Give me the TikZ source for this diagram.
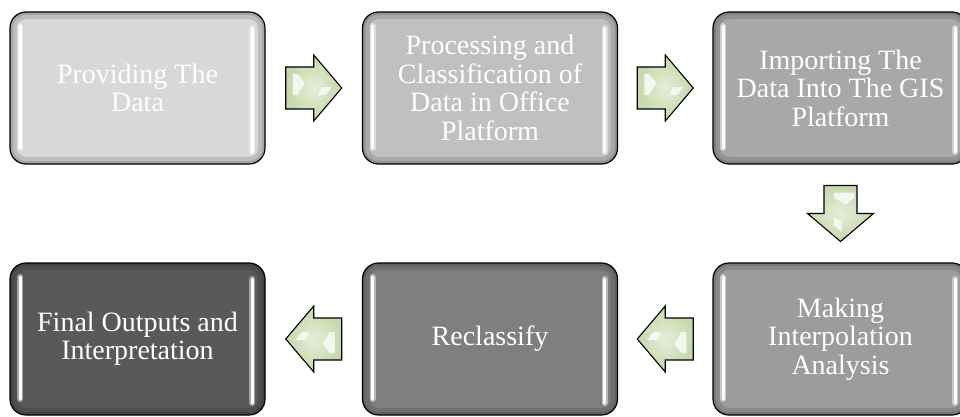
\documentclass[tikz,border=0pt]{standalone}
\usepackage{fontspec}
\setmainfont{Liberation Serif}
\usetikzlibrary{calc}

\definecolor{fillA}{HTML}{D8D8D8}
\definecolor{fillB}{HTML}{C0C0C0}
\definecolor{fillC}{HTML}{A8A8A8}
\definecolor{fillD}{HTML}{9C9C9C}
\definecolor{fillE}{HTML}{7F7F7F}
\definecolor{fillF}{HTML}{595959}
\definecolor{arrowlight}{HTML}{E4EDD8}
\definecolor{arrowdark}{HTML}{C5D8AA}

\tikzset{
  stepbox/.style={fill=#1, draw=black, line width=1.2pt, rounded corners=16pt,
    minimum width=255pt, minimum height=152pt, inner sep=0pt,
    text=white, align=center, font=\fontsize{28}{28.5}\selectfont,
    path picture={
      \draw[black, opacity=.12, line width=14pt, rounded corners=16pt]
        (path picture bounding box.south west) rectangle (path picture bounding box.north east);
      \draw[black, opacity=.12, line width=6pt, rounded corners=16pt]
        (path picture bounding box.south west) rectangle (path picture bounding box.north east);
      \draw[white, opacity=.45, line width=6pt, line cap=round]
        ([shift={(10pt,-14pt)}]path picture bounding box.north west) -- ([shift={(10pt,16pt)}]path picture bounding box.south west);
      \draw[white, line width=3pt, line cap=round]
        ([shift={(10pt,-14pt)}]path picture bounding box.north west) -- ([shift={(10pt,16pt)}]path picture bounding box.south west);
      \draw[white, opacity=.45, line width=6pt, line cap=round]
        ([shift={(-13pt,-16pt)}]path picture bounding box.north east) -- ([shift={(-13pt,12pt)}]path picture bounding box.south east);
      \draw[white, line width=3pt, line cap=round]
        ([shift={(-13pt,-16pt)}]path picture bounding box.north east) -- ([shift={(-13pt,12pt)}]path picture bounding box.south east);
    }},
  arrowshaft/.store in=\arrowshaft, arrowshaft=21,
  flowarrow/.pic={
    \draw[line width=1.1pt, inner color=arrowlight, outer color=arrowdark]
      (-28,\arrowshaft) -- (0,\arrowshaft) -- (0,33) -- (28,0) -- (0,-33)
      -- (0,-\arrowshaft) -- (-28,-\arrowshaft) -- cycle;
    \fill[white, opacity=.75] (-21,14) -- (-16,14) -- (-9,5) -- (-16,-7) -- (-21,-7) -- cycle;
    \fill[white, opacity=.75] (8,1) -- (18,1) -- (12,-7) -- (4,-7) -- cycle;
  }
}

\begin{document}
\begin{tikzpicture}[x=1pt, y=1pt]
  \useasboundingbox (0,0) rectangle (960,416);
  % top row
  \node[stepbox=fillA] (b1) at (137.5,328) {Providing The\\Data};
  \node[stepbox=fillB] (b2) at (490,328) {Processing and\\Classification of\\Data in Office\\Platform};
  \node[stepbox=fillC] (b3) at (840.5,328) {Importing The\\Data Into The GIS\\Platform};
  % bottom row
  \node[stepbox=fillD] (b4) at (840.5,77) {Making\\Interpolation\\Analysis};
  \node[stepbox=fillE] (b5) at (490,77) {Reclassify};
  \node[stepbox=fillF] (b6) at (137.5,77) {Final Outputs and\\Interpretation};
  % arrows between the steps
  \pic at ($(b1.east)!.5!(b2.west)$) {flowarrow};
  \pic at ($(b2.east)!.5!(b3.west)$) {flowarrow};
  \pic[rotate=-90, arrowshaft=16.5] at ($(b3.south)!.5!(b4.north)$) {flowarrow};
  \pic[rotate=180] at ($(b4.west)!.5!(b5.east)$) {flowarrow};
  \pic[rotate=180] at ($(b5.west)!.5!(b6.east)$) {flowarrow};
\end{tikzpicture}
\end{document}
